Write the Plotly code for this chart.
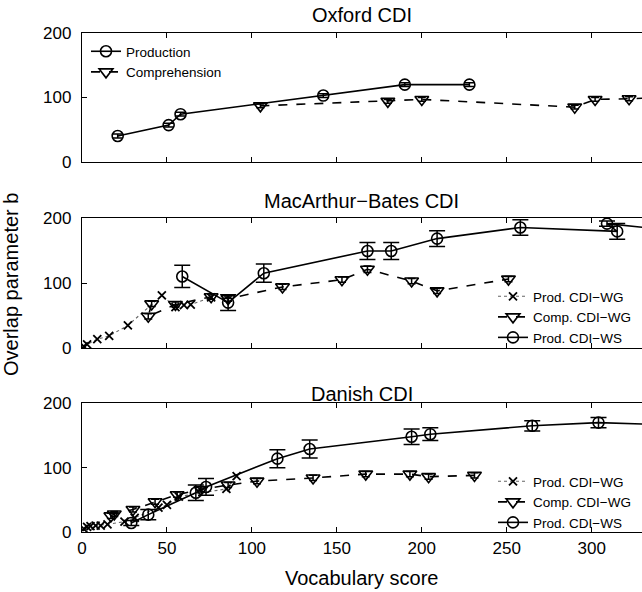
import plotly.graph_objects as go

# ---- Oxford CDI ----
ox_prod_x = [21, 51, 58, 142, 190, 228]
ox_prod_y = [40, 57, 74, 103, 120, 120]
ox_prod_err = [3, 3, 3, 3, 3, 3]
ox_comp_x = [105, 180, 200, 290, 302, 322, 350]
ox_comp_y = [87, 94, 97, 85, 97, 98, 101]
ox_comp_err = [3, 3, 3, 3, 3, 3, 3]

# ---- MacArthur-Bates CDI ----
mb_wg_x = [1, 3, 9, 16, 27, 47, 55, 60, 64, 76]
mb_wg_y = [3, 6, 14, 19, 35, 81, 63, 66, 67, 78]
mb_comp_x = [41, 39, 55, 76, 86, 118, 153, 168, 194, 209, 251]
mb_comp_y = [68, 49, 67, 79, 76, 94, 105, 121, 103, 88, 106]
mb_comp_err = [4, 4, 4, 4, 4, 4, 4, 5, 4, 4, 4]
mb_ws_x = [59, 86, 107, 168, 182, 209, 258, 315, 309, 350]
mb_ws_y = [110, 70, 115, 149, 149, 168, 185, 179, 191, 180]
mb_ws_err = [17, 12, 14, 13, 13, 12, 12, 12, 4, 12]

# ---- Danish CDI ----
dk_wg_x = [1, 3, 5, 8, 11, 15, 25, 31, 45, 50, 57, 85, 91]
dk_wg_y = [5, 8, 9, 10, 10, 12, 16, 22, 38, 42, 55, 67, 87]
dk_comp_x = [17, 19, 30, 43, 56, 70, 86, 103, 136, 167, 193, 204, 231]
dk_comp_y = [25, 28, 35, 47, 58, 66, 73, 79, 84, 90, 90, 86, 88]
dk_comp_err = [4] * 13
dk_ws_x = [29, 39, 67, 73, 115, 134, 194, 205, 265, 304, 350]
dk_ws_y = [14, 27, 61, 70, 114, 129, 148, 152, 165, 170, 166]
dk_ws_err = [4, 8, 12, 13, 14, 14, 12, 10, 8, 8, 8]

x_ticks = [0, 50, 100, 150, 200, 250, 300]
y_ticks = [0, 100, 200]

W, H = 642, 592
FONT = "Liberation Sans, Arial, Helvetica, sans-serif"
BLACK = "black"


def px_x(p):
    return p / W


def px_y(p):
    return 1 - p / H


def errbar(arr, w=8):
    return dict(type="data", array=arr, color=BLACK, thickness=1.5, width=w)


fig = go.Figure()

# Oxford panel
fig.add_trace(go.Scatter(
    x=ox_prod_x, y=ox_prod_y, name="Production", mode="lines+markers",
    line=dict(color=BLACK, width=1.6),
    marker=dict(symbol="circle-open", size=11, color=BLACK, line=dict(width=1.6)),
    error_y=errbar(ox_prod_err, 5), xaxis="x", yaxis="y", legend="legend"))
fig.add_trace(go.Scatter(
    x=ox_comp_x, y=ox_comp_y, name="Comprehension", mode="lines+markers",
    line=dict(color=BLACK, width=1.6, dash="dash"),
    marker=dict(symbol="triangle-down-open", size=12, color=BLACK, line=dict(width=1.6)),
    error_y=errbar(ox_comp_err, 4), xaxis="x", yaxis="y", legend="legend"))

# MacArthur-Bates and Danish panels share the same three series styles
panels = [
    ("x2", "y2", "legend2", mb_wg_x, mb_wg_y, mb_comp_x, mb_comp_y, mb_comp_err,
     mb_ws_x, mb_ws_y, mb_ws_err),
    ("x3", "y3", "legend3", dk_wg_x, dk_wg_y, dk_comp_x, dk_comp_y, dk_comp_err,
     dk_ws_x, dk_ws_y, dk_ws_err),
]
for xa, ya, lg, wx, wy, cx, cy, ce, sx, sy, se in panels:
    fig.add_trace(go.Scatter(
        x=wx, y=wy, name="Prod. CDI\u2212WG", mode="lines+markers",
        line=dict(color="#666666", width=1.1, dash="dot"),
        marker=dict(symbol="x-thin-open", size=8, color=BLACK, line=dict(width=1.8, color=BLACK)),
        xaxis=xa, yaxis=ya, legend=lg))
    fig.add_trace(go.Scatter(
        x=cx, y=cy, name="Comp. CDI\u2212WG", mode="lines+markers",
        line=dict(color=BLACK, width=1.6, dash="dash"),
        marker=dict(symbol="triangle-down-open", size=12, color=BLACK, line=dict(width=1.6)),
        error_y=errbar(ce, 4), xaxis=xa, yaxis=ya, legend=lg))
    fig.add_trace(go.Scatter(
        x=sx, y=sy, name="Prod. CDI\u2212WS", mode="lines+markers",
        line=dict(color=BLACK, width=1.6),
        marker=dict(symbol="circle-open", size=11, color=BLACK, line=dict(width=1.6)),
        error_y=errbar(se, 8), xaxis=xa, yaxis=ya, legend=lg))

x_dom = [px_x(82), 1]
y_doms = {
    "yaxis": [px_y(161.7), px_y(33.3)],
    "yaxis2": [px_y(348.3), px_y(217.7)],
    "yaxis3": [px_y(532), px_y(403.3)],
}

axis_common = dict(
    showline=True, linecolor=BLACK, linewidth=1.3, ticks="inside", ticklen=5,
    tickwidth=1.2, tickcolor=BLACK, showgrid=False, zeroline=False,
    tickfont=dict(family=FONT, size=17, color=BLACK), automargin=False,
)

layout = dict(
    width=W, height=H, margin=dict(l=0, r=0, t=0, b=0),
    paper_bgcolor="white", plot_bgcolor="white",
    font=dict(family=FONT, color=BLACK),
)
for i, (ax, anchor) in enumerate([("xaxis", "y"), ("xaxis2", "y2"), ("xaxis3", "y3")]):
    layout[ax] = dict(axis_common, domain=x_dom, range=[0, 329.6], anchor=anchor,
                      tickvals=x_ticks, mirror="ticks",
                      showticklabels=(i == 2))
for i, (ay, anchor) in enumerate([("yaxis", "x"), ("yaxis2", "x2"), ("yaxis3", "x3")]):
    layout[ay] = dict(axis_common, domain=y_doms[ay], range=[0, 200], anchor=anchor,
                      tickvals=y_ticks, ticklabelstandoff=6)

legend_common = dict(font=dict(family=FONT, size=13.5, color=BLACK),
                     bgcolor="rgba(0,0,0,0)", borderwidth=0,
                     xanchor="left", yanchor="top", itemwidth=30)
layout["legend"] = dict(legend_common, x=px_x(86), y=px_y(36))
layout["legend2"] = dict(legend_common, x=px_x(493), y=px_y(281))
layout["legend3"] = dict(legend_common, x=px_x(493), y=px_y(466))

fig.update_layout(**layout)

title_font = dict(family=FONT, size=20, color=BLACK)
for text, ypix in [("Oxford CDI", 15), ("MacArthur\u2212Bates CDI", 201), ("Danish CDI", 394)]:
    fig.add_annotation(text=text, x=px_x(362), y=px_y(ypix), xref="paper", yref="paper",
                       showarrow=False, xanchor="center", yanchor="middle", font=title_font)
fig.add_annotation(text="Vocabulary score", x=px_x(362), y=px_y(578), xref="paper",
                   yref="paper", showarrow=False, xanchor="center", yanchor="middle",
                   font=title_font)
fig.add_annotation(text="Overlap parameter b", x=px_x(11), y=px_y(285), xref="paper",
                   yref="paper", showarrow=False, xanchor="center", yanchor="middle",
                   textangle=-90, font=title_font)

fig.write_html("out.html")
